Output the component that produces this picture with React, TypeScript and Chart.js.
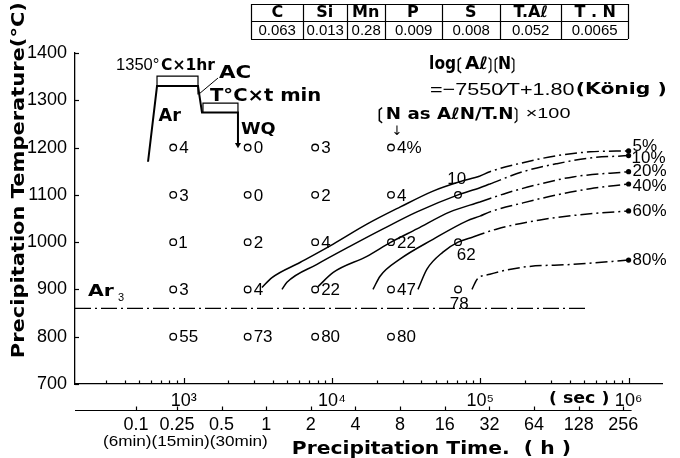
import React, { useEffect, useRef } from 'react';
import { Chart, registerables } from 'chart.js';

Chart.register(...registerables);

// ---------- axis ticks ----------
const tempTicks = [700, 800, 900, 1000, 1100, 1200, 1300, 1400];
const secDecades = [1e3, 1e4, 1e5, 1e6];
const secDecadeLabels = ['10³', '10⁴', '10⁵', '10⁶'];
const secMinorMultipliers = [2, 3, 4, 5, 6, 7, 8, 9];
const hourTickSec = [477, 900, 1800, 3600, 7200, 14400, 28800, 57600, 115200, 230400, 460800, 921600];
const hourTickLabels = ['0.1', '0.25', '0.5', '1', '2', '4', '8', '16', '32', '64', '128', '256'];
const xMinSec = 185;
const xMaxSec = 1.68e6;

// ---------- measured points (N as AlN / T.N x100) ----------
const measTime = [
  850, 850, 850, 850, 850,
  2700, 2700, 2700, 2700, 2700,
  7700, 7700, 7700, 7700, 7700,
  25000, 25000, 25000, 25000, 25000,
  70800, 70800, 70800,
];
const measTemp = [
  1200, 1100, 1000, 900, 800,
  1200, 1100, 1000, 900, 800,
  1200, 1100, 1000, 900, 800,
  1200, 1100, 1000, 900, 800,
  1100, 1000, 900,
];
const measLabel = [
  '4', '3', '1', '3', '55',
  '0', '0', '2', '4', '73',
  '3', '2', '4', '22', '80',
  '4%', '4', '22', '47', '80',
  '10', '62', '78',
];
const measLabelPos = [
  'r', 'r', 'r', 'r', 'r',
  'r', 'r', 'r', 'r', 'r',
  'r', 'r', 'r', 'r', 'r',
  'r', 'r', 'r', 'r', 'r',
  'tl', 'br', 'b',
];

// ---------- iso-precipitation curves ----------
const c5Time = [3370, 3940, 6080, 10200, 17200, 28700, 48000, 73000, 99500, 116000, 194000, 329000, 550000, 1000000];
const c5Temp = [904, 925, 957, 996, 1038, 1074, 1108, 1128, 1140, 1149, 1168, 1183, 1191, 1193];
const c10Time = [4600, 4970, 7920, 13200, 22100, 37400, 70800, 99500, 116000, 194000, 329000, 550000, 1000000];
const c10Temp = [900, 915, 953, 991, 1028, 1064, 1100, 1115, 1123, 1149, 1166, 1178, 1183];
const c20Time = [8050, 10200, 17200, 25000, 37400, 62500, 99500, 151000, 253000, 422000, 1000000];
const c20Temp = [906, 936, 970, 1000, 1028, 1064, 1085, 1104, 1123, 1138, 1149];
const c40Time = [18900, 21100, 28700, 48000, 81400, 99500, 116000, 194000, 329000, 550000, 1000000];
const c40Temp = [900, 928, 964, 1006, 1045, 1055, 1064, 1083, 1100, 1113, 1123];
const c60Time = [38000, 43700, 56000, 70800, 89300, 130000, 253000, 550000, 1000000];
const c60Temp = [900, 943, 979, 1000, 1011, 1028, 1047, 1060, 1066];
const c80Time = [87900, 95000, 116000, 194000, 422000, 1000000];
const c80Temp = [900, 921, 932, 947, 953, 962];
const curveNames = ['5%', '10%', '20%', '40%', '60%', '80%'];
const curveSolidSegments = [8, 8, 6, 5, 4, 0];

// ---------- Ar3 line ----------
const ar3Time = [185, 532000];
const ar3Temp = [860, 860];

// ---------- heat-treatment schematic ----------
const profileTime = [575, 661, 1249, 1329, 2323, 2323];
const profileTemp = [1170, 1330, 1330, 1274, 1274, 1206];
const bracket1Time = [661, 661, 1249, 1249];
const bracket1Temp = [1330, 1351, 1351, 1312];
const bracket2Time = [1349, 1349, 2323, 2323];
const bracket2Temp = [1274, 1294, 1294, 1274];
const acLeaderTime = [1288, 1703];
const acLeaderTemp = [1315, 1347];

// ---------- composition table ----------
const tableHeads = ['C', 'Si', 'Mn', 'P', 'S', 'T.Aℓ', 'T . N'];
const tableValues = ['0.063', '0.013', '0.28', '0.009', '0.008', '0.052', '0.0065'];

const SANS = "'Liberation Sans', Arial, sans-serif";
const GOTHIC = "'DejaVu Sans', 'Noto Sans CJK JP', sans-serif";
const CJK = "'Noto Sans CJK JP', 'DejaVu Sans', sans-serif";
const DASHDOT = [12, 4, 2, 4];

const pts = (t: number[], v: number[]) => t.map((x, i) => ({ x, y: v[i] }));

// draw text; if w is given, the ink box is stretched to exactly w pixels
function txt(ctx: CanvasRenderingContext2D, s: string, x: number, y: number, font: string, w?: number, align: 'center' | 'left' = 'center') {
  ctx.save();
  ctx.font = font;
  ctx.textBaseline = 'middle';
  ctx.fillStyle = '#000';
  ctx.textAlign = 'left';
  const m = ctx.measureText(s);
  const inkL = m.actualBoundingBoxLeft;
  const inkW = m.actualBoundingBoxRight + m.actualBoundingBoxLeft;
  const sx = w ? w / inkW : 1;
  const drawnW = inkW * sx;
  const left = align === 'center' ? x - drawnW / 2 : x;
  ctx.translate(left, y);
  ctx.scale(sx, 1);
  ctx.fillText(s, inkL, 0);
  ctx.restore();
}

function seg(ctx: CanvasRenderingContext2D, x1: number, y1: number, x2: number, y2: number) {
  ctx.beginPath();
  ctx.moveTo(x1, y1);
  ctx.lineTo(x2, y2);
  ctx.stroke();
}

const decor = {
  id: 'decor',
  afterDraw(chart: any) {
    const ctx: CanvasRenderingContext2D = chart.ctx;
    const { x, xh, y } = chart.scales;
    const a = chart.chartArea;
    ctx.save();
    ctx.strokeStyle = '#000';
    ctx.lineWidth = 1.2;
    // inward tick marks on the temperature axis
    for (const v of tempTicks) {
      const py = Math.round(y.getPixelForValue(v)) + 0.5;
      seg(ctx, a.left, py, a.left + 4, py);
    }
    // inward tick marks on the seconds axis
    for (const t of x.ticks) {
      const px = Math.round(x.getPixelForValue(t.value)) + 0.5;
      const len = secDecades.includes(t.value) ? 6 : 3.5;
      seg(ctx, px, a.bottom, px, a.bottom - len);
    }
    // hours axis line and ticks
    const hy = Math.round(xh.top) + 0.5;
    seg(ctx, a.left, hy, xh.getPixelForValue(1e6) + 3, hy);
    for (const v of hourTickSec) {
      const px = Math.round(xh.getPixelForValue(v)) + 0.5;
      seg(ctx, px, hy, px, hy - 4);
    }
    txt(ctx, '( sec )', 579, 399, `bold 16px ${GOTHIC}`, 58);
    txt(ctx, '(6min)(15min)(30min)', 185, 442, `14px ${SANS}`, 164);
    // axis titles
    ctx.save();
    ctx.translate(20, 180);
    ctx.rotate(-Math.PI / 2);
    txt(ctx, 'Precipitation Temperature(°C)', 0, 0, `bold 17px ${GOTHIC}`, 354);
    ctx.restore();
    txt(ctx, 'Precipitation Time.  ( h )', 293, 450, `bold 17px ${GOTHIC}`, 277, 'left');

    // composition table
    const edges = [251, 303, 347, 385, 442, 500, 561, 628];
    const rows = [4, 21, 39];
    ctx.lineWidth = 1.2;
    for (const ry of rows) seg(ctx, edges[0], ry + 0.5, edges[edges.length - 1], ry + 0.5);
    for (const ex of edges) seg(ctx, ex + 0.5, rows[0], ex + 0.5, rows[2]);
    tableHeads.forEach((h, i) => {
      const cx = (edges[i] + edges[i + 1]) / 2;
      txt(ctx, h, cx, 13, `bold 16px ${GOTHIC}`);
      txt(ctx, tableValues[i], cx, 30.5, `15px ${SANS}`);
    });

    // solubility formula
    const fb = `bold 17px ${GOTHIC}`;
    const fk = `bold 17px ${CJK}`;
    txt(ctx, 'log', 430, 65, fb, 25, 'left');
    txt(ctx, '〔', 457, 66, fk, 5, 'left');
    txt(ctx, 'Aℓ', 465, 65, fb, 22, 'left');
    txt(ctx, '〕', 488, 66, fk, 4, 'left');
    txt(ctx, '〔', 494, 66, fk, 4, 'left');
    txt(ctx, 'N', 499, 65, fb, 11, 'left');
    txt(ctx, '〕', 511, 66, fk, 4, 'left');
    txt(ctx, '=−7550∕T+1.80', 430, 90, `17px ${SANS}`, 144, 'left');
    txt(ctx, '(König )', 577, 90, `bold 16px ${GOTHIC}`, 88, 'left');
    txt(ctx, '〔', 378, 116, fk, 5, 'left');
    txt(ctx, 'N as AℓN∕T.N', 387, 115, `bold 16px ${GOTHIC}`, 125, 'left');
    txt(ctx, '〕', 514, 116, fk, 4, 'left');
    txt(ctx, '×100', 527, 114, `15px ${SANS}`, 43, 'left');
    txt(ctx, '↓', 397, 132, `13px ${GOTHIC}`);

    // schematic labels
    txt(ctx, '1350°', 117, 66, `16px ${SANS}`, 42, 'left');
    txt(ctx, 'C×1hr', 161, 66, `bold 16px ${GOTHIC}`, 54, 'left');
    txt(ctx, 'AC', 235, 73, `bold 18px ${GOTHIC}`, 32);
    txt(ctx, 'T°C×t min', 265, 97, `bold 17px ${GOTHIC}`, 110);
    txt(ctx, 'Ar', 170, 117, `bold 17px ${GOTHIC}`, 23);
    txt(ctx, 'WQ', 258, 130, `bold 16px ${GOTHIC}`, 34);
    txt(ctx, 'Ar', 101, 292, `bold 16px ${GOTHIC}`, 26);
    txt(ctx, '3', 121, 298, `11px ${SANS}`);

    // labels of measured points
    const measIdx = chart.data.datasets.findIndex((d: any) => d.label === 'measured');
    const mm = chart.getDatasetMeta(measIdx);
    mm.data.forEach((p: any, i: number) => {
      const pos = measLabelPos[i];
      const f = `17px ${SANS}`;
      if (pos === 'r') txt(ctx, measLabel[i], p.x + 6, p.y + 1, f, undefined, 'left');
      else if (pos === 'tl') txt(ctx, measLabel[i], p.x - 1, p.y - 16, f);
      else if (pos === 'br') txt(ctx, measLabel[i], p.x + 8, p.y + 13, f);
      else txt(ctx, measLabel[i], p.x + 1, p.y + 15, f);
    });

    // labels at curve ends
    const dy = [-5, 3, 0, 2, 0, 0];
    curveNames.forEach((n, k) => {
      const meta = chart.getDatasetMeta(k);
      const last = meta.data[meta.data.length - 1];
      txt(ctx, n, last.x + 4, last.y + dy[k], `17px ${SANS}`, undefined, 'left');
    });
    ctx.restore();
  },
};

export default function App() {
  const ref = useRef<HTMLCanvasElement>(null);
  useEffect(() => {
    const curves = [
      [c5Time, c5Temp], [c10Time, c10Temp], [c20Time, c20Temp],
      [c40Time, c40Temp], [c60Time, c60Temp], [c80Time, c80Temp],
    ];
    const curveSets = curves.map(([t, v], k) => ({
      label: curveNames[k],
      data: pts(t, v),
      showLine: true,
      borderColor: '#000',
      borderWidth: 1.5,
      cubicInterpolationMode: 'monotone',
      pointRadius: (c: any) => (c.dataIndex === t.length - 1 ? 2.6 : 0),
      pointBackgroundColor: '#000',
      pointBorderWidth: 0,
      segment: {
        borderDash: (c: any) => (c.p0DataIndex >= curveSolidSegments[k] ? DASHDOT : undefined),
      },
    }));
    const lineSet = (label: string, t: number[], v: number[], extra: any = {}) => ({
      label,
      data: pts(t, v),
      showLine: true,
      borderColor: '#000',
      borderWidth: 1.4,
      tension: 0,
      pointRadius: 0,
      ...extra,
    });
    const chart = new Chart(ref.current!, {
      type: 'scatter',
      data: {
        datasets: [
          ...curveSets,
          lineSet('Ar3', ar3Time, ar3Temp, { borderDash: [16, 4, 2, 4] }),
          lineSet('profile', profileTime, profileTemp, {
            borderWidth: 2,
            pointRadius: (c: any) => (c.dataIndex === profileTime.length - 1 ? 3.5 : 0),
            pointStyle: 'triangle',
            rotation: 180,
            pointBackgroundColor: '#000',
            pointBorderWidth: 0,
          }),
          lineSet('bracket1', bracket1Time, bracket1Temp, { borderWidth: 1.2 }),
          lineSet('bracket2', bracket2Time, bracket2Temp, { borderWidth: 1.2 }),
          lineSet('acLeader', acLeaderTime, acLeaderTemp, { borderWidth: 1 }),
          {
            label: 'measured',
            data: pts(measTime, measTemp),
            showLine: false,
            pointRadius: 3.3,
            pointBackgroundColor: '#fff',
            pointBorderColor: '#000',
            pointBorderWidth: 1.3,
          },
        ] as any,
      },
      options: {
        responsive: false,
        animation: false,
        events: [],
        layout: { padding: { top: 53, right: 18, bottom: 0, left: 0 } },
        plugins: { legend: { display: false }, tooltip: { enabled: false } },
        scales: {
          y: {
            type: 'linear',
            position: 'left',
            min: 700,
            max: 1400,
            afterBuildTicks: (s: any) => { s.ticks = tempTicks.map((v) => ({ value: v })); },
            afterFit: (s: any) => { s.width = 75; },
            grid: { display: false, drawTicks: false },
            border: { display: true, color: '#000', width: 1.3 },
            ticks: { color: '#000', padding: 8, font: { family: SANS, size: 18 }, callback: (v: any) => String(v) },
          },
          x: {
            type: 'logarithmic',
            position: 'bottom',
            weight: 0,
            min: xMinSec,
            max: xMaxSec,
            afterBuildTicks: (s: any) => {
              const list: any[] = [];
              [1e2, 1e3, 1e4, 1e5].forEach((d) => {
                list.push({ value: d });
                secMinorMultipliers.forEach((m) => list.push({ value: d * m }));
              });
              list.push({ value: 1e6 });
              s.ticks = list.filter((t) => t.value >= 300 && t.value <= xMaxSec);
            },
            afterFit: (s: any) => { s.height = 26; },
            grid: { display: false, drawTicks: false },
            border: { display: true, color: '#000', width: 1.3 },
            ticks: {
              autoSkip: false,
              maxRotation: 0,
              color: '#000',
              padding: 6,
              font: { family: SANS, size: 18 },
              callback: (v: any) => {
                const i = secDecades.indexOf(Number(v));
                return i >= 0 ? secDecadeLabels[i] : '';
              },
            },
          },
          xh: {
            type: 'logarithmic',
            position: 'bottom',
            weight: 1,
            min: xMinSec,
            max: xMaxSec,
            afterBuildTicks: (s: any) => { s.ticks = hourTickSec.map((v) => ({ value: v })); },
            afterFit: (s: any) => { s.height = 48; },
            grid: { display: false, drawTicks: false },
            border: { display: false },
            ticks: {
              autoSkip: false,
              maxRotation: 0,
              color: '#000',
              padding: 4,
              font: { family: SANS, size: 18 },
              callback: (v: any) => {
                const i = hourTickSec.indexOf(Number(v));
                return i >= 0 ? hourTickLabels[i] : '';
              },
            },
          },
        },
      } as any,
      plugins: [decor],
    });
    return () => chart.destroy();
  }, []);
  return (
    <div style={{ position: 'absolute', left: 0, top: 0, width: 680, height: 458, background: '#fff' }}>
      <canvas ref={ref} width={680} height={458} />
    </div>
  );
}
